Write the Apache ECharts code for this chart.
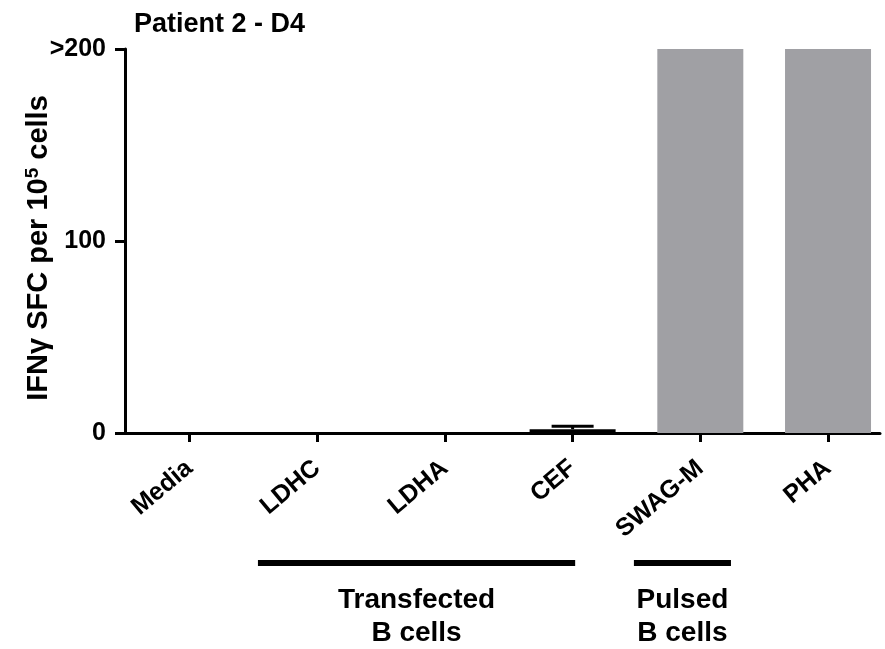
<!DOCTYPE html>
<html>
<head>
<meta charset="utf-8">
<script src="https://cdn.jsdelivr.net/npm/echarts@6/dist/echarts.min.js"></script>
<style>html,body{margin:0;padding:0;background:#fff;}#c{width:885px;height:649px;}</style>
</head>
<body>
<div id="c"></div>
<script>
// ---- data ----
var categories = ['Media', 'LDHC', 'LDHA', 'CEF', 'SWAG-M', 'PHA'];
var values = [0, 0, 0, 2, 200, 200];
var errorUpper = [null, null, null, 3.5, null, null];
var yTicks = [0, 100, 200];
var yTickLabels = ['0', '100', '>200'];
var groupNames = ['Transfected\nB cells', 'Pulsed\nB cells'];
var groupStart = [0.536, 3.48];
var groupEnd = [3.02, 4.24];

var FONT = '"Liberation Sans", Arial, sans-serif';
var GRAY = '#a0a0a4';

var barData = values.map(function (v, i) {
  var d = { value: [i, v] };
  if (categories[i] === 'CEF') d.itemStyle = { color: '#000' };
  return d;
});
var errData = [];
errorUpper.forEach(function (u, i) { if (u != null) errData.push([i, values[i], u]); });
var grpData = groupNames.map(function (n, i) { return [groupStart[i], groupEnd[i], i]; });

var chart = echarts.init(document.getElementById('c'), null, { renderer: 'canvas' });
chart.setOption({
  animation: false,
  backgroundColor: '#fff',
  title: {
    text: 'Patient 2 - D4', left: 134, top: 11, padding: 0,
    textStyle: { fontFamily: FONT, fontWeight: 'bold', fontSize: 27, color: '#000' }
  },
  grid: { left: 125, top: 49, width: 755, height: 384, containLabel: false },
  xAxis: {
    type: 'value', min: -0.505, max: 5.407,
    splitLine: { show: false },
    axisLine: { show: true, onZero: false, lineStyle: { color: '#000', width: 3 } },
    axisTick: { show: true, length: 9, lineStyle: { color: '#000', width: 3 }, customValues: [0, 1, 2, 3, 4, 5] },
    axisLabel: {
      customValues: [0, 1, 2, 3, 4, 5],
      rotate: 40, margin: 32,
      fontFamily: FONT, fontWeight: 'bold', fontSize: 25, color: '#000',
      formatter: function (v) { return categories[Math.round(v)]; }
    }
  },
  yAxis: {
    type: 'value', min: 0, max: 200, interval: 100,
    splitLine: { show: false },
    axisLine: { show: true, onZero: false, lineStyle: { color: '#000', width: 3 } },
    axisTick: { show: true, length: 10, lineStyle: { color: '#000', width: 3 } },
    axisLabel: {
      margin: 19, fontFamily: FONT, fontWeight: 'bold', fontSize: 25, color: '#000',
      formatter: function (v) { var k = yTicks.indexOf(v); return k >= 0 ? yTickLabels[k] : ''; }
    },
    name: '{a|IFNγ SFC per 10}{s|5}{a| cells}',
    nameLocation: 'middle', nameRotate: 90, nameGap: 70, nameMoveOverlap: false,
    nameTextStyle: {
      padding: [0, 14, 0, 0],
      rich: {
        a: { fontFamily: FONT, fontWeight: 'bold', fontSize: 29, color: '#000', lineHeight: 32 },
        s: { fontFamily: FONT, fontWeight: 'bold', fontSize: 19, color: '#000', verticalAlign: 'top', lineHeight: 32 }
      }
    }
  },
  series: [
    {
      type: 'bar', data: barData, barWidth: 86,
      itemStyle: { color: GRAY }
    },
    {
      type: 'custom', data: errData, z: 5,
      renderItem: function (params, api) {
        var x = api.value(0);
        var p1 = api.coord([x, api.value(1)]);
        var p2 = api.coord([x, api.value(2)]);
        return {
          type: 'group', children: [
            { type: 'line', shape: { x1: p1[0], y1: p1[1], x2: p2[0], y2: p2[1] }, style: { stroke: '#000', lineWidth: 3 } },
            { type: 'line', shape: { x1: p2[0] - 21, y1: p2[1], x2: p2[0] + 21, y2: p2[1] }, style: { stroke: '#000', lineWidth: 3 } }
          ]
        };
      }
    },
    {
      type: 'custom', data: grpData, clip: false, z: 5,
      renderItem: function (params, api) {
        var a = api.coord([api.value(0), 0]);
        var b = api.coord([api.value(1), 0]);
        var cs = params.coordSys;
        var yLine = cs.y + cs.height + 130;
        return {
          type: 'group', children: [
            { type: 'line', shape: { x1: a[0], y1: yLine, x2: b[0], y2: yLine }, style: { stroke: '#000', lineWidth: 6 } },
            { type: 'text', x: (a[0] + b[0]) / 2, y: yLine + 21,
              style: { text: groupNames[api.value(2)], fill: '#000', align: 'center', verticalAlign: 'top',
                font: 'bold 28px ' + FONT, lineHeight: 33 } }
          ]
        };
      }
    }
  ]
});
</script>
</body>
</html>
